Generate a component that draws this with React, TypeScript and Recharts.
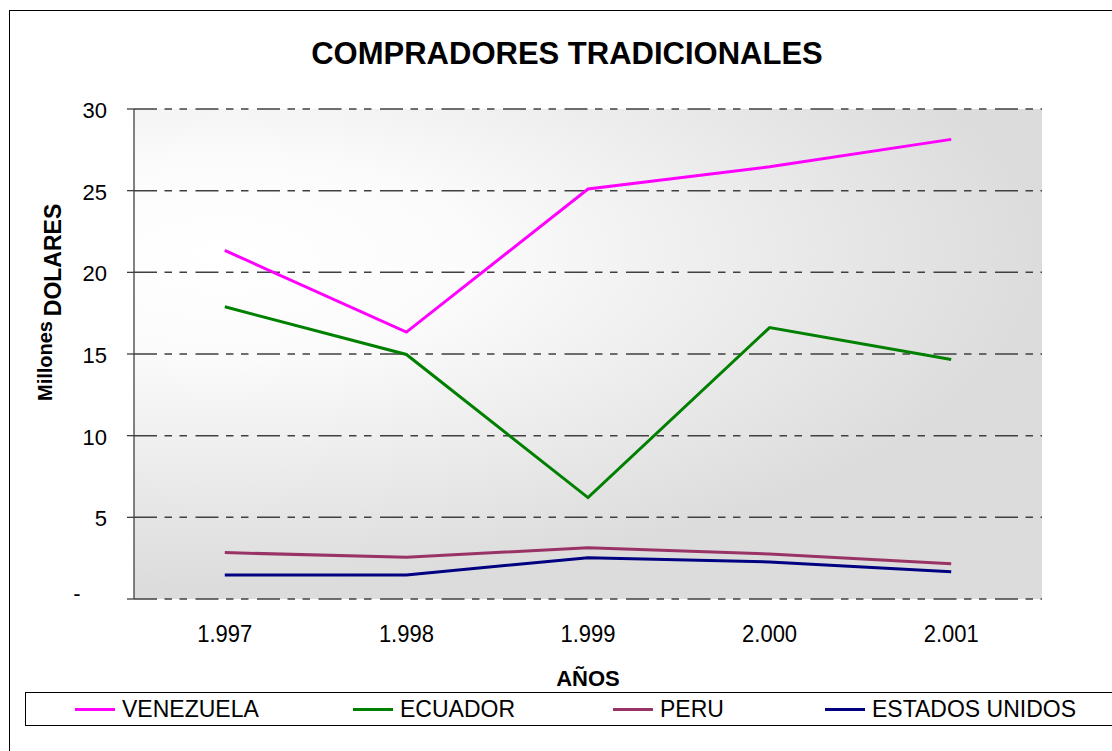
import React from 'react';
import { LineChart, Line, XAxis, YAxis, CartesianGrid } from 'recharts';

const years = ['1.997', '1.998', '1.999', '2.000', '2.001'];
const venezuela = [21.34, 16.34, 25.1, 26.46, 28.14];
const ecuador = [17.89, 14.97, 6.21, 16.62, 14.66];
const peru = [2.84, 2.55, 3.14, 2.76, 2.16];
const estadosUnidos = [1.47, 1.47, 2.53, 2.27, 1.67];
const yTicks = [0, 5, 10, 15, 20, 25, 30];
const boundaryTicks = [0, 1, 2, 3, 4, 5];

const seriesKeys = ['venezuela', 'ecuador', 'peru', 'estadosUnidos'];
const seriesNames = ['VENEZUELA', 'ECUADOR', 'PERU', 'ESTADOS UNIDOS'];
const seriesColors = ['#FF00FF', '#008000', '#993366', '#000080'];
const legendLefts = [75, 353, 613, 825];

const data = years.map((year, i) => ({
  year,
  venezuela: venezuela[i],
  ecuador: ecuador[i],
  peru: peru[i],
  estadosUnidos: estadosUnidos[i],
}));

const FONT = 'Arial, "Liberation Sans", sans-serif';

const YTick = (props: any) => {
  const { x, y, payload } = props;
  if (payload.value === 0) {
    return (
      <text x={x - 30} y={y} dy={2} textAnchor="middle" fontSize={22} fontFamily={FONT} fill="#000">
        -
      </text>
    );
  }
  return (
    <text x={x} y={y} dy={9} textAnchor="end" fontSize={22} fontFamily={FONT} fill="#000">
      {payload.value}
    </text>
  );
};

const XTick = (props: any) => {
  const { x, y, payload } = props;
  return (
    <text
      transform={`translate(${x}, ${y + 16}) scale(1, 1.1)`}
      textAnchor="middle"
      fontSize={22}
      fontFamily={FONT}
      fill="#000"
    >
      {payload.value}
    </text>
  );
};

const YLabel = () => (
  <g>
    <text
      x={61}
      y={260}
      transform="rotate(-90, 61, 260)"
      textAnchor="middle"
      fontSize={23}
      fontWeight="bold"
      fontFamily={FONT}
      fill="#000"
    >
      DOLARES
    </text>
    <text
      x={52}
      y={361}
      transform="rotate(-90, 52, 361)"
      textAnchor="middle"
      fontSize={20}
      fontWeight="bold"
      fontFamily={FONT}
      fill="#000"
    >
      Millones
    </text>
  </g>
);

export default function App() {
  return (
    <div style={{ position: 'absolute', left: 0, top: 0, width: 1112, height: 751, overflow: 'hidden', background: '#fff', fontFamily: FONT }}>
      <div style={{ position: 'absolute', left: 9, top: 10, width: 1200, height: 800, border: '1px solid #000', boxSizing: 'border-box' }} />
      <LineChart
        width={1112}
        height={751}
        data={data}
        margin={{ top: 109, right: 70, bottom: 0, left: 0 }}
        style={{ position: 'absolute', left: 0, top: 0 }}
      >
        <defs>
          <radialGradient
            id="plotBg"
            cx="0.1"
            cy="0.3"
            r="0.9"
            gradientUnits="objectBoundingBox"
            gradientTransform="translate(0.1 0.3) scale(1 0.75) translate(-0.1 -0.3)"
          >
            <stop offset="0" stopColor="#ffffff" />
            <stop offset="0.3" stopColor="#fbfbfb" />
            <stop offset="1" stopColor="#dcdcdc" />
          </radialGradient>
        </defs>
        <CartesianGrid
          vertical={false}
          stroke="#404040"
          strokeWidth={1.5}
          strokeDasharray="23 7.5 7.5 7.5 7.5 8.5"
          fill="url(#plotBg)"
          fillOpacity={1}
        />
        <XAxis
          xAxisId="bounds"
          type="number"
          domain={[0, 5]}
          ticks={boundaryTicks}
          allowDataOverflow
          tick={false}
          height={0}
          tickSize={8}
          stroke="#404040"
          strokeWidth={1.3}
        />
        <XAxis
          xAxisId="cat"
          dataKey="year"
          scale="band"
          axisLine={false}
          tickLine={false}
          tickSize={0}
          tickMargin={27}
          height={152}
          interval={0}
          tick={<XTick />}
          label={{
            value: 'AÑOS',
            position: 'insideTop',
            offset: 71,
            style: { fontSize: 22, fontWeight: 'bold', fontFamily: FONT, fill: '#000' },
          }}
        />
        <YAxis
          domain={[0, 30]}
          ticks={yTicks}
          interval={0}
          width={134}
          tickSize={7}
          tickMargin={20}
          stroke="#404040"
          strokeWidth={1.3}
          tick={<YTick />}
          label={{ content: <YLabel /> }}
        />
        {seriesKeys.map((k, i) => (
          <Line
            key={k}
            xAxisId="cat"
            type="linear"
            dataKey={k}
            name={seriesNames[i]}
            stroke={seriesColors[i]}
            strokeWidth={3}
            dot={false}
            activeDot={false}
            isAnimationActive={false}
          />
        ))}
      </LineChart>
      <div
        style={{
          position: 'absolute',
          left: 0,
          top: 38,
          width: 1134,
          textAlign: 'center',
          fontSize: 31,
          lineHeight: '31px',
          fontWeight: 'bold',
          color: '#000',
        }}
      >
        COMPRADORES TRADICIONALES
      </div>
      <div style={{ position: 'absolute', left: 25, top: 692, width: 1200, height: 34, border: '1px solid #000', boxSizing: 'border-box' }} />
      {seriesNames.map((n, i) => (
        <React.Fragment key={n}>
          <div style={{ position: 'absolute', left: legendLefts[i], top: 708, width: 40, height: 3, background: seriesColors[i] }} />
          <div
            style={{
              position: 'absolute',
              left: legendLefts[i] + 47,
              top: 697.5,
              fontSize: 23,
              lineHeight: '23px',
              color: '#000',
              whiteSpace: 'nowrap',
              transform: 'scaleY(1.08)',
              transformOrigin: '0 19.5px',
            }}
          >
            {n}
          </div>
        </React.Fragment>
      ))}
    </div>
  );
}
